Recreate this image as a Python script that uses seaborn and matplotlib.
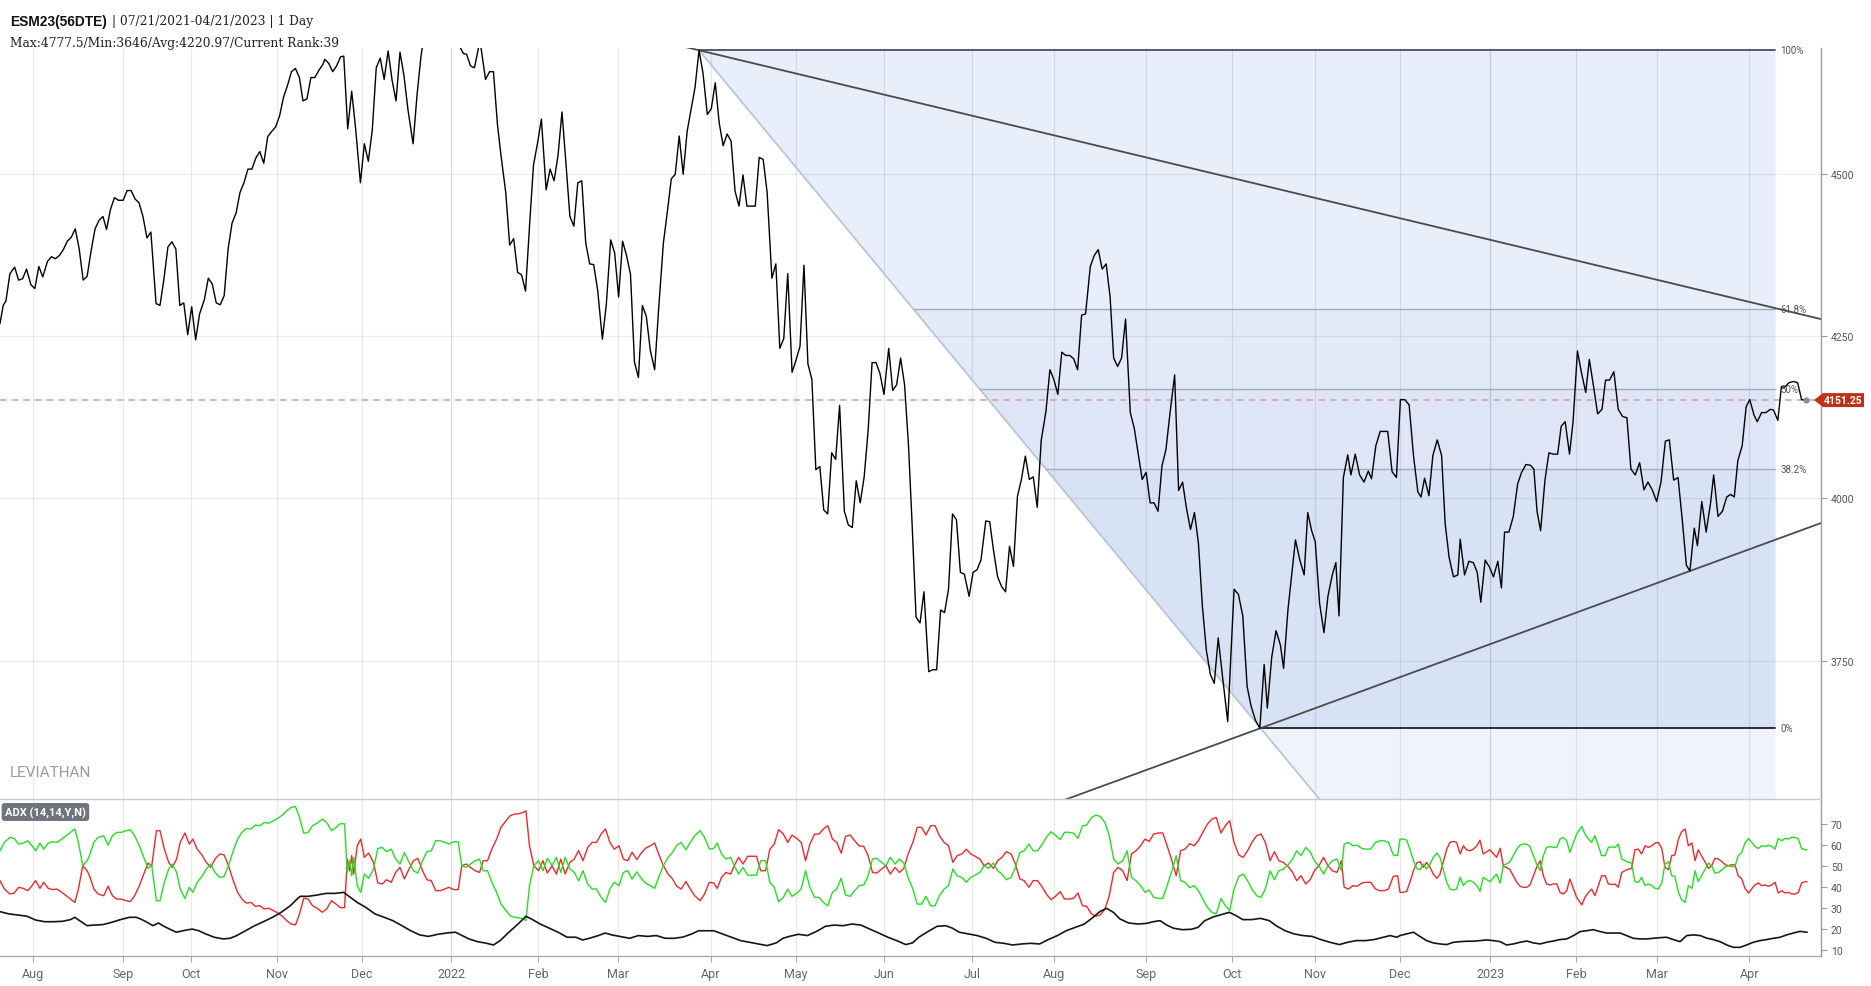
import matplotlib
matplotlib.use("Agg")
import matplotlib.pyplot as plt
from matplotlib.patches import Polygon
import seaborn as sns
import numpy as np
import pandas as pd

# ---- price (session index since 07/21/2021, close) ----
price_day = [0.0, 0.8, 1.5, 2.5, 3.7, 4.7, 5.7, 6.7, 7.8, 8.8, 9.8, 10.8, 12.0, 13.0, 14.0, 15.0, 16.0, 17.0, 18.0, 19.0,
             20.0, 21.0, 22.0, 23.0, 24.0, 25.0, 26.0, 26.9, 27.9, 28.9, 29.9, 31.1, 32.1, 33.1, 34.1, 35.1, 36.1, 37.1, 38.1, 39.4,
             40.4, 41.4, 42.4, 43.4, 44.4, 45.4, 46.4, 47.4, 48.4, 49.4, 50.4, 51.6, 52.6, 53.6, 54.6, 55.6, 56.6, 57.6, 58.6, 59.6,
             60.6, 61.6, 62.6, 63.6, 64.6, 65.6, 66.6, 67.6, 68.6, 69.6, 70.6, 71.6, 72.6, 73.6, 74.6, 75.6, 76.5, 77.5, 78.5, 79.5,
             80.5, 81.5, 82.0, 83.0, 84.0, 85.0, 86.0, 86.8, 87.8, 88.8, 89.8, 91.0, 92.0, 93.0, 94.0, 95.0, 96.0, 97.0, 98.0, 99.0,
             100.0, 101.0, 102.0, 103.0, 104.3, 105.3, 106.3, 107.3, 108.3, 109.3, 110.3, 111.3, 112.3, 113.3, 114.3, 115.3, 116.3, 117.0, 117.8, 118.8,
             119.8, 121.2, 122.6, 123.6, 124.6, 125.6, 126.5, 127.7, 128.7, 129.7, 130.7, 131.7, 132.7, 133.7, 134.7, 135.7, 136.7, 137.9, 138.9, 139.9,
             140.9, 141.9, 142.9, 143.9, 144.9, 145.9, 146.9, 147.9, 148.9, 149.9, 150.9, 152.1, 153.1, 154.2, 155.2, 156.2, 157.2, 158.2, 159.2, 160.2,
             161.2, 162.2, 163.2, 164.2, 165.3, 166.3, 167.5, 168.5, 169.5, 170.5, 171.5, 172.5, 173.5, 174.5, 175.5, 176.5, 177.5, 178.6, 179.6, 180.6,
             181.6, 182.6, 183.6, 184.6, 185.6, 186.6, 187.6, 188.6, 189.6, 190.7, 191.7, 192.7, 193.7, 194.9, 195.9, 196.9, 197.9, 198.9, 200.0, 201.0,
             202.0, 203.0, 204.0, 205.0, 206.0, 207.0, 208.0, 209.0, 210.0, 211.0, 212.0, 213.2, 214.2, 215.2, 216.2, 217.2, 218.2, 219.2, 220.2, 221.2,
             222.2, 223.2, 224.4, 225.4, 226.4, 227.4, 228.4, 229.4, 230.3, 231.3, 232.3, 233.3, 234.5, 235.5, 236.5, 237.5, 238.5, 239.5, 240.5, 241.5,
             242.5, 243.5, 244.7, 245.7, 246.7, 247.7, 248.9, 249.9, 250.9, 251.9, 252.9, 253.9, 254.9, 255.9, 256.9, 257.9, 258.9, 259.9, 260.9, 261.9,
             262.9, 264.1, 265.1, 266.1, 267.1, 268.1, 269.1, 270.1, 271.1, 272.1, 273.1, 274.1, 275.3, 276.3, 277.3, 278.3, 279.3, 280.3, 281.2, 282.2,
             283.2, 284.2, 285.4, 286.4, 287.4, 288.4, 289.4, 290.4, 291.4, 292.4, 293.4, 294.4, 295.4, 296.6, 297.6, 298.6, 299.6, 300.6, 301.6, 302.6,
             303.6, 304.6, 305.6, 306.6, 307.6, 308.9, 310.0, 311.6, 312.7, 313.8, 314.9, 315.9, 317.0, 318.1, 319.2, 320.0, 321.1, 322.2, 323.3, 324.1,
             325.2, 326.1, 327.1, 328.2, 329.3, 330.2, 331.2, 332.1, 333.2, 334.3, 335.3, 336.4, 337.3, 338.1, 339.2, 340.3, 341.1, 342.2, 343.3, 344.4,
             345.5, 346.3, 347.4, 348.5, 349.6, 350.4, 351.5, 352.6, 353.6, 354.7, 355.8, 356.9, 358.0, 358.8, 359.7, 360.8, 361.8, 362.9, 364.0, 364.9,
             365.9, 367.0, 368.1, 368.7, 369.8, 370.9, 372.0, 373.0, 373.9, 375.0, 376.1, 377.1, 378.2, 379.1, 379.9, 381.0, 382.1, 383.2, 384.2, 385.3,
             386.4, 387.3, 388.1, 389.0, 390.1, 391.1, 392.2, 393.3, 394.2, 395.2, 396.3, 397.2, 398.3, 399.3, 400.4, 401.3, 402.4, 403.4, 404.5, 405.4,
             406.4, 407.5, 408.6, 409.7, 410.8, 411.8, 412.9, 414.0, 415.1, 416.1, 417.2, 418.3, 419.4, 420.5, 421.5, 422.6, 423.7, 424.8, 425.8, 426.7,
             427.8, 428.6, 429.7, 430.8, 431.9, 432.7, 433.8, 434.9, 436.0, 437.0, 437.9, 438.8, 439.9, 440.9, 441.8, 442.9, 443.7, 444.8, 445.9, 447.0,
             447.8, 448.9, 449.8, 450.6, 451.7, 452.8, 453.9, 454.9, 456.0]
price_val = [4269, 4297, 4304, 4346, 4356, 4336, 4338, 4353, 4329, 4323, 4357, 4341, 4365, 4372, 4369, 4374, 4383, 4396, 4402, 4415,
             4384, 4336, 4342, 4381, 4415, 4428, 4434, 4414, 4445, 4463, 4459, 4459, 4474, 4474, 4461, 4455, 4434, 4401, 4410, 4300,
             4297, 4338, 4387, 4395, 4384, 4297, 4301, 4252, 4295, 4244, 4284, 4306, 4339, 4330, 4301, 4298, 4312, 4384, 4424, 4439,
             4471, 4486, 4507, 4507, 4524, 4534, 4516, 4557, 4565, 4572, 4589, 4618, 4636, 4657, 4662, 4648, 4612, 4615, 4648, 4648,
             4659, 4668, 4676, 4670, 4657, 4666, 4680, 4681, 4569, 4627, 4569, 4486, 4546, 4519, 4567, 4663, 4678, 4645, 4689, 4644,
             4612, 4687, 4651, 4599, 4546, 4621, 4681, 4720, 4745, 4730, 4760, 4777.5, 4750, 4765, 4740, 4725, 4693, 4685, 4684, 4666,
             4663, 4705, 4645, 4657, 4657, 4576, 4528, 4471, 4390, 4400, 4348, 4344, 4319, 4419, 4513, 4546, 4584, 4475, 4507, 4489,
             4528, 4595, 4516, 4434, 4419, 4486, 4489, 4393, 4361, 4360, 4321, 4245, 4299, 4398, 4378, 4310, 4396, 4374, 4345, 4210,
             4186, 4297, 4280, 4228, 4198, 4291, 4393, 4441, 4492, 4499, 4558, 4499, 4565, 4599, 4633, 4690, 4655, 4591, 4600, 4640,
             4578, 4543, 4561, 4550, 4473, 4450, 4498, 4450, 4450, 4450, 4525, 4522, 4471, 4339, 4361, 4231, 4246, 4346, 4194, 4213,
             4234, 4359, 4207, 4183, 4044, 4049, 3982, 3976, 4070, 4060, 4143, 3980, 3959, 3955, 4027, 3993, 4033, 4104, 4209, 4209,
             4192, 4160, 4231, 4166, 4175, 4216, 4175, 4081, 3961, 3817, 3808, 3856, 3733, 3736, 3736, 3828, 3824, 3860, 3976, 3967,
             3886, 3883, 3849, 3886, 3890, 3905, 3965, 3964, 3918, 3879, 3864, 3856, 3926, 3895, 4003, 4029, 4065, 4029, 4033, 3986,
             4089, 4134, 4198, 4183, 4160, 4225, 4220, 4220, 4215, 4198, 4282, 4284, 4357, 4374, 4383, 4353, 4361, 4310, 4216, 4203,
             4216, 4276, 4132, 4108, 4068, 4029, 4040, 3993, 3993, 3980, 4050, 4075, 4130, 4190, 4012, 4025, 3984, 3952, 3978, 3931,
             3834, 3766, 3729, 3715, 3785, 3714, 3656, 3860, 3852, 3819, 3710, 3680, 3658, 3646, 3744, 3677, 3755, 3796, 3774, 3738,
             3828, 3879, 3936, 3905, 3882, 3978, 3950, 3933, 3838, 3793, 3849, 3882, 3901, 3819, 4032, 4067, 4036, 4068, 4036, 4025,
             4042, 4030, 4081, 4103, 4103, 4103, 4041, 4032, 4152, 4152, 4144, 4066, 4010, 4002, 4031, 4004, 4066, 4090, 4066, 3961,
             3909, 3879, 3882, 3937, 3882, 3903, 3901, 3886, 3840, 3905, 3894, 3879, 3903, 3862, 3948, 3948, 3972, 4022, 4040, 4052,
             4051, 4045, 3980, 3950, 4028, 4070, 4068, 4068, 4111, 4118, 4068, 4118, 4227, 4194, 4163, 4214, 4171, 4130, 4137, 4182,
             4182, 4195, 4137, 4126, 4124, 4045, 4036, 4055, 4013, 4025, 4013, 3995, 4025, 4088, 4090, 4028, 4032, 3965, 3897, 3888,
             3954, 3927, 3995, 3948, 3992, 4036, 3972, 3980, 4002, 4006, 4002, 4058, 4081, 4141, 4152, 4128, 4118, 4132, 4132, 4137,
             4136, 4120, 4172, 4171, 4178, 4180, 4178, 4152, 4151.25]

# ---- ADX (14,14,Y,N): +DI, -DI, ADX ----
di_day = [0.0, 1.1, 2.5, 3.6, 4.7, 5.9, 7.0, 8.1, 9.0, 10.1, 11.0, 12.2, 13.3, 14.4, 15.6, 16.7, 17.8, 18.9, 19.8, 20.9,
          22.0, 22.6, 23.7, 24.8, 26.2, 27.3, 28.4, 29.5, 30.7, 31.8, 32.9, 34.0, 35.2, 36.3, 37.4, 38.3, 39.5, 40.4, 41.5, 42.6,
          43.5, 44.6, 45.5, 46.7, 47.8, 48.7, 49.8, 51.0, 52.1, 53.2, 54.3, 55.5, 56.6, 57.7, 58.9, 60.0, 61.1, 62.2, 63.4, 64.5,
          65.6, 66.7, 67.9, 69.0, 70.1, 71.3, 72.4, 73.5, 74.6, 75.5, 76.7, 77.8, 78.9, 80.3, 81.4, 82.5, 83.7, 84.8, 85.9, 87.0,
          87.7, 88.3, 88.8, 89.3, 90.2, 91.1, 92.0, 93.1, 94.3, 95.4, 96.5, 97.6, 98.8, 99.9, 101.0, 102.1, 103.3, 104.4, 105.5, 106.7,
          107.8, 108.9, 110.0, 111.2, 112.3, 113.4, 114.5, 115.7, 116.6, 117.7, 118.8, 120.0, 121.1, 122.0, 123.1, 124.2, 125.4, 126.5, 127.6, 128.8,
          129.9, 131.0, 132.1, 132.8, 133.7, 134.8, 136.0, 137.1, 138.2, 139.4, 140.5, 141.6, 142.7, 143.9, 145.0, 146.1, 147.2, 148.4, 149.5, 150.6,
          151.8, 152.9, 154.0, 155.1, 156.3, 157.4, 158.5, 159.6, 160.8, 161.9, 163.0, 164.2, 165.3, 166.4, 167.5, 168.7, 169.8, 170.9, 172.0, 173.2,
          174.3, 175.4,
          176.8, 177.9, 179.1, 180.2, 181.1, 182.2, 183.3, 184.5, 185.4, 186.5, 187.6, 188.8, 189.9, 191.0, 192.1, 193.3, 194.4, 195.5, 196.6, 197.8,
          198.9, 200.0, 201.2, 202.3, 203.4, 204.5, 205.7, 206.8, 207.9, 209.0, 210.2, 211.3, 212.4, 213.5, 214.7, 215.8, 216.9, 218.1, 219.2, 220.3,
          221.4, 222.6, 223.7, 224.8, 226.0, 227.1, 228.2, 229.3, 230.5, 231.6, 232.7, 233.8, 235.0, 236.1, 237.2, 238.4, 239.5, 240.6, 241.7, 242.9,
          244.0, 245.1, 246.2, 247.4, 248.5, 249.6, 250.8, 251.9, 253.0, 254.1, 255.3, 256.4, 257.5, 258.6, 259.8, 260.9, 262.0, 263.2, 264.3, 265.4,
          266.5, 267.7, 268.8, 269.9, 271.1, 272.2, 273.3, 274.4, 275.6, 276.7, 277.8, 279.0, 280.1, 281.2, 282.3, 283.5, 284.6, 285.7, 286.8, 288.0,
          289.1, 290.2, 291.3, 292.5, 293.6, 294.7, 295.9, 297.0, 298.1, 299.2, 300.4, 301.5, 302.6, 303.7, 304.9, 306.0, 307.1, 308.3, 309.4, 310.5,
          311.6, 312.8, 313.9, 315.0, 316.1, 317.3, 318.4, 319.5, 320.7, 321.8, 322.9, 324.0, 325.2, 326.3, 327.4, 328.5, 329.7, 330.8, 331.9, 333.1,
          334.2, 335.3, 336.4, 337.6, 338.7, 339.4, 340.5, 341.6, 342.7, 343.9, 345.0, 346.1, 347.3, 348.4, 349.5, 350.6, 351.8, 352.9,
          353.5, 354.3, 355.2, 356.0, 356.9, 357.7, 358.6, 359.4, 360.2, 361.1, 361.9, 362.8, 363.6, 364.4, 365.3, 366.1, 367.0, 367.8, 368.7, 369.5,
          370.3, 371.2, 372.0, 372.9, 373.7, 374.5, 375.4, 376.2, 377.1, 377.9, 378.8, 379.6, 380.4, 381.3, 382.1, 383.0, 383.8, 384.6, 385.5, 386.3,
          387.2, 388.0, 388.9, 389.7, 390.5, 391.4, 392.2, 393.1, 393.9, 394.7, 395.6, 396.4, 397.3, 398.1, 399.4, 400.2, 401.1, 401.9, 402.7, 403.6,
          404.4, 405.3, 406.1, 407.0, 407.8, 408.6, 409.5, 410.3, 411.2, 412.0, 412.8, 413.7, 414.5, 415.4, 416.2, 417.1, 417.9, 418.7, 419.6, 420.4,
          421.3, 422.1, 422.9, 423.8, 424.6, 425.5, 426.3, 427.2, 428.0, 428.8, 429.7, 430.5, 431.4, 432.2, 433.0, 433.9, 434.7, 435.6, 436.4, 437.3,
          438.1, 438.9, 439.8, 440.6, 441.5, 442.3, 443.1, 444.0, 444.8, 445.7, 446.5, 447.4, 448.2, 449.0, 449.9, 450.7, 451.6, 452.4, 453.3, 454.1,
          454.9, 455.8, 456.3]
plus_di = [57.1, 61.1, 63.5, 63.0, 60.3, 60.8, 61.9, 59.5, 57.1, 60.8, 57.9, 60.8, 61.4, 61.1, 62.7, 64.3, 65.9, 67.5, 61.1, 50.0,
           52.4, 54.8, 61.1, 63.5, 64.3, 59.8, 64.3, 65.9, 65.9, 66.7, 67.1, 64.3, 59.5, 54.0, 48.7, 50.3, 33.3, 33.3, 42.1, 48.4,
           50.8, 46.8, 38.9, 34.4, 39.7, 37.3, 42.1, 44.9, 48.4, 50.8, 46.8, 44.4, 44.9, 50.0, 57.1, 62.7, 65.9, 67.8, 67.5, 69.4,
           69.0, 70.6, 70.3, 71.4, 72.5, 74.1, 76.2, 77.8, 78.2, 73.8, 65.5, 65.9, 69.0, 70.6, 72.2, 70.6, 66.7, 68.2, 70.0, 70.0,
           46.8, 52.4, 45.2, 54.0, 40.5, 37.3, 46.0, 44.0, 48.4, 58.2, 58.7, 56.7, 57.9, 53.2, 50.8, 56.3, 51.6, 47.6, 46.5, 52.4,
           56.7, 57.1, 61.9, 61.9, 61.1, 60.3, 61.4, 61.4, 50.0, 49.2, 50.8, 52.4, 53.2, 47.6, 47.6, 42.1, 37.3, 31.7, 29.0, 26.2,
           25.4, 25.2, 24.6, 23.8, 40.5, 50.0, 52.4, 47.6, 53.5, 50.0, 54.0, 46.8, 54.0, 48.4, 46.8, 42.8, 47.6, 41.3, 38.9, 38.9,
           34.9, 32.5, 38.9, 42.1, 40.5, 46.8, 47.6, 43.6, 47.1, 44.0, 41.7, 40.5, 39.2, 44.9, 50.0, 54.0, 56.3, 59.8, 61.1, 57.6,
           61.1, 64.3,
           66.7, 63.5, 57.9, 58.2, 60.8, 55.5, 53.2, 54.0, 50.0, 46.0, 49.2, 45.5, 45.5, 45.5, 52.4, 52.4, 42.1, 39.7, 32.8, 34.9,
           38.9, 35.4, 37.0, 38.9, 47.6, 39.7, 34.9, 34.9, 32.5, 30.9, 37.3, 38.9, 44.0, 36.0, 35.4, 38.1, 40.5, 40.8, 45.2, 53.2,
           53.5, 51.6, 50.0, 54.0, 50.8, 53.2, 51.3, 44.4, 38.9, 31.7, 31.7, 35.4, 30.9, 30.9, 35.7, 38.9, 40.5, 48.4, 45.2, 44.4,
           42.1, 44.4, 45.5, 46.8, 50.0, 48.7, 51.3, 47.6, 46.0, 43.3, 44.4, 49.2, 56.3, 57.1, 60.3, 57.1, 57.1, 60.3, 63.8, 66.2,
           64.6, 62.4, 65.9, 65.9, 65.5, 63.0, 69.0, 69.4, 73.0, 74.1, 73.5, 70.6, 64.3, 53.2, 50.8, 52.4, 57.1, 44.4, 42.9, 40.5,
           37.3, 38.4, 34.9, 34.4, 34.4, 40.5, 47.6, 54.8, 42.9, 42.1, 39.5, 40.5, 38.1, 34.1, 30.1, 27.8, 27.0, 34.4, 30.9, 28.6,
           38.9, 44.9, 46.0, 42.9, 38.9, 35.7, 34.9, 38.9, 47.6, 43.3, 47.6, 48.4, 50.3, 52.9, 57.1, 54.8, 58.7, 56.7, 52.4, 49.7,
           46.0, 50.0, 52.4, 53.2, 47.6, 60.3, 61.1, 59.5, 59.8, 58.2, 57.9, 57.9, 61.1, 61.9, 61.9, 61.1, 55.1, 54.8,
           62.7, 62.7, 62.2, 57.9, 52.4, 48.7, 48.1, 50.8, 48.4, 50.8, 54.0, 56.0, 54.0, 48.4, 42.1, 38.9, 38.4, 38.9, 44.4, 40.5,
           42.4, 42.9, 42.1, 40.5, 37.8, 44.4, 43.3, 42.4, 44.4, 46.0, 41.7, 50.3, 50.8, 51.9, 54.8, 57.9, 59.8, 60.3, 60.3, 59.2,
           54.8, 50.8, 47.6, 54.8, 58.7, 59.2, 58.7, 58.7, 62.7, 63.5, 61.9, 56.3, 61.1, 65.1, 68.7, 65.1, 62.7, 61.1, 64.3, 59.5,
           54.8, 54.8, 58.7, 59.0, 58.7, 60.3, 53.2, 52.4, 51.6, 51.3, 42.4, 42.1, 44.4, 40.5, 41.3, 40.5, 39.2, 38.9, 41.7, 50.8,
           51.9, 45.2, 44.9, 37.3, 33.8, 32.5, 40.5, 39.2, 47.6, 42.4, 45.5, 48.1, 51.3, 50.0, 46.5, 46.8, 47.9, 49.5, 50.0, 49.5,
           49.7, 54.8, 56.3, 60.8, 63.0, 61.1, 59.2, 58.2, 59.5, 59.2, 59.8, 59.2, 57.9, 63.0, 61.9, 63.0, 62.7, 63.5, 63.5, 62.7,
           58.2, 57.6, 57.6]
minus_di = [42.9, 38.9, 36.5, 37.0, 39.7, 39.2, 38.1, 40.5, 42.9, 39.2, 42.1, 39.2, 38.6, 38.9, 37.3, 35.7, 34.1, 32.5, 38.9, 50.0,
            47.6, 45.2, 38.9, 36.5, 35.7, 40.2, 35.7, 34.1, 34.1, 33.3, 32.9, 35.7, 40.5, 46.0, 51.3, 49.7, 66.7, 66.7, 57.9, 51.6,
            49.2, 53.2, 61.1, 65.6, 60.3, 62.7, 57.9, 55.1, 51.6, 49.2, 53.2, 55.6, 55.1, 50.0, 42.9, 37.3, 34.1, 32.2, 32.5, 30.6,
            31.0, 29.4, 29.7, 28.6, 27.5, 25.9, 23.8, 22.2, 21.8, 26.2, 34.5, 34.1, 31.0, 29.4, 27.8, 29.4, 33.3, 31.8, 30.0, 30.0,
            53.2, 47.6, 54.8, 46.0, 59.5, 62.7, 54.0, 56.0, 51.6, 41.8, 41.3, 43.3, 42.1, 46.8, 49.2, 43.7, 48.4, 52.4, 53.5, 47.6,
            43.3, 42.9, 38.1, 38.1, 38.9, 39.7, 38.6, 38.6, 50.0, 50.8, 49.2, 47.6, 46.8, 52.4, 52.4, 57.9, 62.7, 68.3, 71.0, 73.8,
            74.6, 74.8, 75.4, 76.2, 59.5, 50.0, 47.6, 52.4, 46.5, 50.0, 46.0, 53.2, 46.0, 51.6, 53.2, 57.2, 52.4, 58.7, 61.1, 61.1,
            65.1, 67.5, 61.1, 57.9, 59.5, 53.2, 52.4, 56.4, 52.9, 56.0, 58.3, 59.5, 60.8, 55.1, 50.0, 46.0, 43.7, 40.2, 38.9, 42.4,
            38.9, 35.7,
            33.3, 36.5, 42.1, 41.8, 39.2, 44.5, 46.8, 46.0, 50.0, 54.0, 50.8, 54.5, 54.5, 54.5, 47.6, 47.6, 57.9, 60.3, 67.2, 65.1,
            61.1, 64.6, 63.0, 61.1, 52.4, 60.3, 65.1, 65.1, 67.5, 69.1, 62.7, 61.1, 56.0, 64.0, 64.6, 61.9, 59.5, 59.2, 54.8, 46.8,
            46.5, 48.4, 50.0, 46.0, 49.2, 46.8, 48.7, 55.6, 61.1, 68.3, 68.3, 64.6, 69.1, 69.1, 64.3, 61.1, 59.5, 51.6, 54.8, 55.6,
            57.9, 55.6, 54.5, 53.2, 50.0, 51.3, 48.7, 52.4, 54.0, 56.7, 55.6, 50.8, 43.7, 42.9, 39.7, 42.9, 42.9, 39.7, 36.2, 33.8,
            35.4, 37.6, 34.1, 34.1, 34.5, 37.0, 31.0, 30.6, 27.0, 25.9, 26.5, 29.4, 35.7, 46.8, 49.2, 47.6, 42.9, 55.6, 57.1, 59.5,
            62.7, 61.6, 65.1, 65.6, 65.6, 59.5, 52.4, 45.2, 57.1, 57.9, 60.5, 59.5, 61.9, 65.9, 69.9, 72.2, 73.0, 65.6, 69.1, 71.4,
            61.1, 55.1, 54.0, 57.1, 61.1, 64.3, 65.1, 61.1, 52.4, 56.7, 52.4, 51.6, 49.7, 47.1, 42.9, 45.2, 41.3, 43.3, 47.6, 50.3,
            54.0, 50.0, 47.6, 46.8, 52.4, 39.7, 38.9, 40.5, 40.2, 41.8, 42.1, 42.1, 38.9, 38.1, 38.1, 38.9, 44.9, 45.2,
            37.3, 37.3, 37.8, 42.1, 47.6, 51.3, 51.9, 49.2, 51.6, 49.2, 46.0, 44.0, 46.0, 51.6, 57.9, 61.1, 61.6, 61.1, 55.6, 59.5,
            57.6, 57.1, 57.9, 59.5, 62.2, 55.6, 56.7, 57.6, 55.6, 54.0, 58.3, 49.7, 49.2, 48.1, 45.2, 42.1, 40.2, 39.7, 39.7, 40.8,
            45.2, 49.2, 52.4, 45.2, 41.3, 40.8, 41.3, 41.3, 37.3, 36.5, 38.1, 43.7, 38.9, 34.9, 31.3, 34.9, 37.3, 38.9, 35.7, 40.5,
            45.2, 45.2, 41.3, 41.0, 41.3, 39.7, 46.8, 47.6, 48.4, 48.7, 57.6, 57.9, 55.6, 59.5, 58.7, 59.5, 60.8, 61.1, 58.3, 49.2,
            48.1, 54.8, 55.1, 62.7, 66.2, 67.5, 59.5, 60.8, 52.4, 57.6, 54.5, 51.9, 48.7, 50.0, 53.5, 53.2, 52.1, 50.5, 50.0, 50.5,
            50.3, 45.2, 43.7, 39.2, 37.0, 38.9, 40.8, 41.8, 40.5, 40.8, 40.2, 40.8, 42.1, 37.0, 38.1, 37.0, 37.3, 36.5, 36.5, 37.3,
            41.8, 42.4, 42.4]
adx_day = [0.0, 2.3, 4.5, 6.8, 9.0, 11.3, 13.5, 15.8, 17.8, 18.9, 20.1, 22.0, 23.7, 25.9, 28.2, 30.4, 32.7, 34.4, 35.5, 37.2,
           38.6, 40.0, 41.1, 42.8, 44.5, 46.2, 48.5, 50.2, 51.9, 54.1, 56.4, 58.1, 59.8, 62.0, 64.3, 66.5, 68.8, 71.0, 73.3, 75.0,
           75.8, 77.8, 80.0, 82.3, 84.6, 86.8, 87.9, 90.2, 92.4, 94.7, 97.0, 99.2, 101.5, 103.7, 106.0, 108.2, 110.5, 112.7, 115.0, 116.7,
           118.4, 120.6, 122.9, 124.6, 126.3, 128.5, 130.8, 132.8, 134.2, 136.4, 138.7, 140.9, 143.2, 145.4, 147.1, 148.8, 151.1, 152.8, 154.5, 156.7,
           159.0, 161.2, 163.5, 165.7, 168.0, 170.2, 172.5, 174.7, 176.4,
           180.2, 182.4, 184.7, 187.0, 189.2, 191.5, 193.7, 196.0, 197.7, 199.3, 201.6, 203.9, 206.1, 208.4, 210.6, 212.9, 215.1, 217.4, 219.6, 221.9,
           224.2, 226.4, 228.7, 230.4, 232.0, 234.3, 236.6, 238.8, 240.5, 242.2, 244.4, 246.7, 249.0, 251.2, 253.5, 255.7, 258.0, 260.2, 262.5, 264.7,
           267.0, 269.2, 271.5, 273.8, 276.0, 277.7, 279.4, 281.1, 282.8, 285.0, 287.3, 289.5, 291.2, 292.9, 294.6, 296.3, 298.6, 300.8, 302.5, 304.2,
           306.5, 308.1, 310.4, 312.1, 313.8, 316.0, 318.3, 320.5, 322.2, 324.5, 326.7, 329.0, 331.3, 333.5, 335.8, 338.2, 340.3, 342.5, 344.8, 347.0,
           349.3, 351.0, 352.7,
           353.5, 355.2, 356.9, 358.6, 360.2, 361.9, 363.6, 365.3, 367.0, 368.7, 370.3, 372.0, 373.7, 375.4, 377.1, 378.8, 380.4, 382.1, 383.8, 385.5,
           387.2, 388.9, 390.5, 392.2, 393.9, 395.6, 397.3, 399.0, 400.6, 402.3, 404.0, 405.7, 407.4, 409.1, 410.7, 412.4, 414.1, 415.8, 417.5, 419.2,
           420.8, 422.5, 424.2, 425.9, 427.6, 429.3, 430.9, 432.6, 434.3, 436.0, 437.7, 439.4, 441.0, 442.7, 444.4, 446.1, 447.8, 449.5, 451.1, 452.8,
           454.5, 456.3]
adx_val = [28.1, 27.0, 26.5, 25.9, 24.1, 23.3, 23.3, 23.5, 24.3, 25.4, 23.8, 21.4, 21.7, 21.9, 23.0, 24.3, 25.4, 25.4, 24.6, 23.0,
           21.4, 22.7, 21.4, 19.8, 18.3, 19.0, 19.8, 19.0, 17.5, 15.9, 15.1, 15.4, 16.7, 19.0, 21.4, 23.3, 25.4, 27.8, 30.9, 34.1,
           35.4, 35.4, 36.0, 36.8, 36.8, 37.3, 35.7, 32.5, 30.1, 27.0, 25.4, 23.8, 21.4, 19.0, 17.0, 16.3, 17.3, 17.9, 18.3, 16.7,
           15.1, 13.8, 13.0, 12.2, 14.3, 18.3, 22.2, 25.9, 24.6, 22.2, 20.2, 18.3, 15.9, 15.9, 14.6, 15.4, 16.7, 17.9, 17.0, 16.2,
           15.4, 16.7, 16.3, 16.7, 15.4, 15.4, 16.0, 17.5, 19.0,
           19.0, 17.5, 15.9, 14.3, 13.5, 12.7, 11.9, 13.2, 15.4, 16.3, 17.3, 16.7, 18.6, 21.1, 21.7, 21.4, 22.2, 21.7, 19.8, 17.9,
           15.9, 14.3, 12.4, 13.2, 15.9, 18.6, 21.1, 21.4, 20.2, 18.3, 17.5, 16.7, 15.4, 13.5, 13.0, 12.2, 12.7, 13.0, 12.7, 14.8,
           16.7, 19.0, 20.6, 22.2, 25.4, 28.1, 29.7, 27.8, 24.6, 22.7, 22.2, 22.5, 23.3, 23.8, 21.7, 20.2, 19.5, 19.7, 20.6, 23.8,
           25.7, 26.5, 27.8, 26.2, 24.3, 24.3, 24.9, 23.8, 21.4, 19.0, 17.5, 16.7, 16.3, 14.8, 13.5, 12.4, 13.5, 14.3, 14.3, 14.8,
           15.9, 16.7, 15.9,
           16.7, 17.5, 18.3, 16.2, 14.3, 13.2, 12.7, 12.4, 13.5, 13.8, 14.0, 14.0, 14.3, 14.6, 14.3, 13.8, 12.2, 12.7, 13.5, 14.1,
           13.2, 12.7, 13.5, 14.1, 14.8, 15.1, 16.7, 18.6, 19.0, 19.5, 18.6, 17.9, 17.9, 17.9, 16.7, 15.4, 15.1, 15.1, 15.4, 15.7,
           15.9, 14.8, 13.8, 16.7, 17.0, 16.7, 15.5, 14.8, 13.8, 12.2, 11.1, 11.1, 12.2, 13.5, 14.3, 14.8, 15.4, 15.9, 17.0, 17.9,
           18.7, 18.3]

# ---- axis labels ----
month_day = [8.4, 31.0, 48.2, 69.9, 91.3, 113.9, 135.9, 156.1, 179.5, 201.0, 223.2, 245.5, 266.1, 289.3, 311.0, 332.0,
             353.4, 376.3, 398.0, 418.5, 441.7]
month_lbl = ["Aug", "Sep", "Oct", "Nov", "Dec", "2022", "Feb", "Mar", "Apr", "May", "Jun", "Jul", "Aug", "Sep", "Oct",
             "Nov", "Dec", "2023", "Feb", "Mar", "Apr"]
year_ticks = [113.9, 376.3]
price_ticks = [3750, 4000, 4250, 4500]
adx_ticks = [10, 20, 30, 40, 50, 60, 70]

# ---- drawing objects ----
fib_hi_day, fib_hi = 176.5, 4690.0
fib_lo_day, fib_lo = 318.3, 3646.0
fib_end_day = 448.2
fib_ratio = [1.0, 0.618, 0.5, 0.382, 0.0]
fib_lbl = ["100%", "61.8%", "50%", "38.2%", "0%"]
upper_tl = ([176.5, 459.8], [4690.0, 4276.0])
lower_tl = ([318.3, 426.7], [3646.0, 3888.0])
last_price = 4151.25

header1_bold = "ESM23(56DTE)"
header1_rest = " | 07/21/2021-04/21/2023 | 1 Day"
header2 = "Max:4777.5/Min:3646/Avg:4220.97/Current Rank:39"

sns.set_theme(style="white")
plt.rcParams["font.family"] = ["Roboto", "DejaVu Sans"]

W, H = 1871, 987
fig = plt.figure(figsize=(W / 100, H / 100), dpi=100)
ax = fig.add_axes([0, 1 - 800 / H, 1821 / W, (800 - 49) / H])
ax2 = fig.add_axes([0, 1 - 956.7 / H, 1821 / W, (956.7 - 800) / H])

xmax = 459.8
ylo, yhi = 3536.9, 4693.5
ax.set_xlim(0, xmax)
ax.set_ylim(ylo, yhi)

# fibonacci fan shading
def diag_x(p):
    return fib_hi_day + (fib_hi - np.asarray(p)) * (fib_lo_day - fib_hi_day) / (fib_hi - fib_lo)

levels = [fib_lo + r * (fib_hi - fib_lo) for r in fib_ratio]
band_col = ["#e8eefa", "#e2e9f8", "#dde5f6", "#d8e2f5"]
for top, bot, c in zip(levels[:-1], levels[1:], band_col):
    yy = np.array([bot, top])
    ax.fill_betweenx(yy, diag_x(yy), fib_end_day, color=c, lw=0, zorder=0)
yy = np.array([ylo, fib_lo])
ax.fill_betweenx(yy, diag_x(yy), fib_end_day, color="#eff3fc", lw=0, zorder=0)

# grid (alpha passed explicitly, rc grid.alpha would override an rgba colour)
for a in (ax, ax2):
    a.set_xticks(month_day)
    a.grid(True, axis="x", color="black", alpha=0.085, lw=0.9)
    for yt in year_ticks:
        a.axvline(yt, color="black", alpha=0.06, lw=0.9, zorder=0.6)
    a.set_axisbelow(True)
ax.set_yticks(price_ticks)
ax.grid(True, axis="y", color="black", alpha=0.075, lw=0.9)

# fib level lines and labels
for r, L, lab in zip(fib_ratio, levels, fib_lbl):
    if r in (1.0, 0.0):
        col, lw = ("#535b6a", 1.4) if r == 1.0 else ("#2e2e2e", 1.4)
    else:
        col, lw = "#a3adbf", 1.0
    ax.plot([float(diag_x(L)), fib_end_day], [L, L], color=col, lw=lw, zorder=1.5)
    ax.text(fib_end_day + 1.4, L, lab, fontsize=7, color="#555555", va="center", ha="left", zorder=5)

# diagonal of the fan
dd = np.array([fib_hi_day, diag_x(ylo) + 2])
ax.plot(dd, [fib_hi, fib_hi - (dd[1] - fib_hi_day) * (fib_hi - fib_lo) / (fib_lo_day - fib_hi_day)],
        color="#bac4d5", lw=1.3, zorder=1.2)

# trendlines
def extend(tl, x0, x1):
    (xa, xb), (ya, yb) = tl
    k = (yb - ya) / (xb - xa)
    return [x0, x1], [ya + k * (x0 - xa), ya + k * (x1 - xa)]

xs, ys = extend(upper_tl, 172.0, xmax)
ax.plot(xs, ys, color="#4b4b4b", lw=1.3, zorder=2)
xs, ys = extend(lower_tl, 260.0, xmax)
ax.plot(xs, ys, color="#4b4b4b", lw=1.3, zorder=2)

# current price
ax.axhline(last_price, color="#dba59f", lw=1.2, ls=(0, (4, 3)), zorder=1.8)

# price line
pdf = pd.DataFrame({"day": price_day, "price": price_val})
sns.lineplot(data=pdf, x="day", y="price", ax=ax, color="black", lw=1.0, sort=False, estimator=None,
             legend=False, zorder=3)
ax.plot(price_day[-1], price_val[-1], "o", ms=3.5, color="#7f8ea6", zorder=4)

# main axis styling
for s in ("left", "top", "bottom"):
    ax.spines[s].set_visible(False)
ax.spines["right"].set_color("#9a9a9a")
ax.spines["right"].set_linewidth(1.0)
ax.yaxis.tick_right()
ax.tick_params(axis="y", which="both", right=True, left=False, length=4, width=0.8, color="#9a9a9a",
               labelsize=7.5, labelcolor="#555555", pad=3)
ax.tick_params(axis="x", length=0, labelbottom=False)
ax.set_xlabel("")
ax.set_ylabel("")

# ADX panel
ddf = pd.DataFrame({"day": di_day, "plus": plus_di, "minus": minus_di})
adf = pd.DataFrame({"day": adx_day, "adx": adx_val})
sns.lineplot(data=ddf, x="day", y="minus", ax=ax2, color="#f0282a", lw=1.0, sort=False, estimator=None, legend=False, zorder=3)
sns.lineplot(data=ddf, x="day", y="plus", ax=ax2, color="#22e022", lw=1.0, sort=False, estimator=None, legend=False, zorder=3)
sns.lineplot(data=adf, x="day", y="adx", ax=ax2, color="#151515", lw=1.2, sort=False, estimator=None, legend=False, zorder=4)
ax2.set_xlim(0, xmax)
ax2.set_ylim(7.1, 81.8)
ax2.set_yticks(adx_ticks)
ax2.yaxis.tick_right()
ax2.set_xticks(month_day)
ax2.set_xticklabels(month_lbl)
ax2.set_xlabel("")
ax2.set_ylabel("")
ax2.spines["left"].set_visible(False)
ax2.spines["top"].set_color("#c9c9c9")
ax2.spines["right"].set_color("#9a9a9a")
ax2.spines["bottom"].set_color("#aaaaaa")
for s in ("top", "right", "bottom"):
    ax2.spines[s].set_linewidth(1.0)
ax2.tick_params(axis="y", right=True, left=False, length=4, width=0.8, color="#9a9a9a",
                labelsize=7.5, labelcolor="#555555", pad=3)
ax2.tick_params(axis="x", bottom=True, length=4, width=0.8, color="#aaaaaa", labelsize=9,
                labelcolor="#666666", pad=4)

# price tag on the right axis
fig.canvas.draw()
yd = ax.transData.transform((0, last_price))[1]
x0 = ax.transAxes.transform((1, 0))[0]
pts = np.array([(x0 - 7, yd), (x0 + 2, yd + 7), (x0 + 43, yd + 7), (x0 + 43, yd - 7), (x0 + 2, yd - 7)])
tag = Polygon(fig.transFigure.inverted().transform(pts), closed=True, transform=fig.transFigure,
              fc="#bf3218", ec="none", zorder=10)
fig.add_artist(tag)
tx, ty = fig.transFigure.inverted().transform((x0 + 22.5, yd))
fig.text(tx, ty, f"{last_price:.2f}", color="white", fontsize=7.5, fontweight="bold", ha="center", va="center",
         zorder=11)

# header
t1 = fig.text(10 / W, 1 - 22 / H, header1_bold, fontsize=9.9, fontweight="bold",
              family=["Liberation Sans", "DejaVu Sans"], va="center", ha="left", color="#111111")
fig.canvas.draw()
bb = t1.get_window_extent()
fig.text((bb.x1 + 1) / W, 1 - 22 / H, header1_rest, fontsize=8.8, family=["DejaVu Serif"],
         va="center", ha="left", color="#222222")
fig.text(10 / W, 1 - 43 / H, header2, fontsize=8.8, family=["DejaVu Serif"], va="center", ha="left",
         color="#222222")

# watermark and indicator tag
fig.text(10 / W, 1 - 773 / H, "LEVIATHAN", fontsize=11, color="#9a9a9a", va="center", ha="left")
fig.text(5 / W, 1 - 813 / H, "ADX (14,14,Y,N)", fontsize=8, fontweight="bold", color="white",
         va="center", ha="left", bbox=dict(boxstyle="round,pad=0.3,rounding_size=0.3", fc="#6f747c", ec="none"))

fig.savefig("out.png", dpi=100)
